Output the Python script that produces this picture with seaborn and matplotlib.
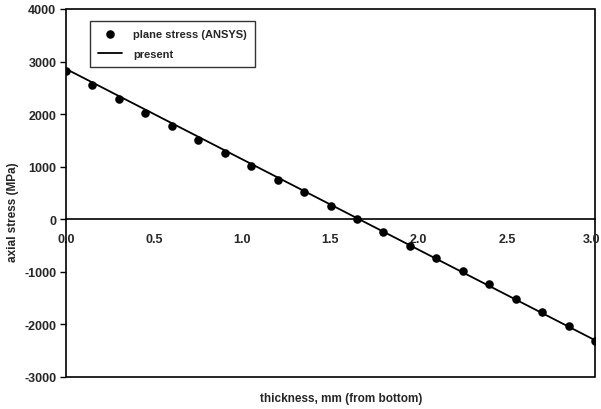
import matplotlib
matplotlib.use("Agg")
import matplotlib.pyplot as plt
import seaborn as sns
import pandas as pd
from matplotlib.patches import Rectangle

thickness = [0.0, 0.15, 0.3, 0.45, 0.6, 0.75, 0.9, 1.05, 1.2, 1.35, 1.5,
             1.65, 1.8, 1.95, 2.1, 2.25, 2.4, 2.55, 2.7, 2.85, 3.0]
ansys_stress = [2820, 2550, 2290, 2020, 1770, 1500, 1260, 1010, 740, 510, 250,
                0, -240, -500, -740, -990, -1240, -1510, -1760, -2030, -2320]
present_x = [0.0, 3.0]
present_stress = [2860, -2300]
xticks = [0.0, 0.5, 1.0, 1.5, 2.0, 2.5, 3.0]
yticks = [-3000, -2000, -1000, 0, 1000, 2000, 3000, 4000]

sns.set_theme(style="white")
plt.rcParams['font.family'] = ['Liberation Sans', 'DejaVu Sans']
plt.rcParams['font.weight'] = 'bold'
plt.rcParams['font.size'] = 9
plt.rcParams['xtick.labelsize'] = 9
plt.rcParams['ytick.labelsize'] = 9

df_pts = pd.DataFrame({"thickness": thickness, "stress": ansys_stress})
df_line = pd.DataFrame({"thickness": present_x, "stress": present_stress})

fig = plt.figure(figsize=(6.01, 4.10), dpi=100)
ax = fig.add_axes([66/601, 1-378/410, (595-66)/601, (378-10)/410])

sns.lineplot(data=df_line, x="thickness", y="stress", ax=ax, color="black",
             linewidth=1.3, label="present", zorder=2)
sns.scatterplot(data=df_pts, x="thickness", y="stress", ax=ax, color="black",
                s=38, edgecolor="black", linewidth=0, label="plane stress (ANSYS)", zorder=3)

ax.set_xlim(0, 3.0)
ax.set_ylim(-3000, 4000)

for s in ['top', 'right', 'left']:
    ax.spines[s].set_visible(False)
ax.spines['bottom'].set_position(('data', 0))
ax.spines['bottom'].set_color('black')
ax.spines['bottom'].set_linewidth(1.2)
ax.add_patch(Rectangle((0, 0), 1, 1, transform=ax.transAxes, fill=False,
                       edgecolor='black', linewidth=1.2, clip_on=False, zorder=1))

ax.tick_params(axis='x', direction='out', length=4, width=1, color='black', pad=6, labelsize=9)
ax.tick_params(axis='y', direction='out', length=4, width=1, color='black', pad=3, left=True, labelsize=9)

ax.set_xticks(xticks)
xlabels = [f"{v:.1f}" for v in xticks]
# last label is drawn separately (slightly shifted) so it stays inside the figure
ax.set_xticklabels(xlabels[:-1] + [""], fontweight='bold')
ax.annotate(xlabels[-1], xy=(xticks[-1], 0), xycoords='data',
            xytext=(-2.5, -10.2), textcoords='offset points', ha='center', va='top',
            fontsize=9, fontweight='bold', annotation_clip=False)
ax.set_yticks(yticks)
ax.set_yticklabels([str(v) for v in yticks], fontweight='bold')

ax.set_xlabel("thickness, mm (from bottom)", fontsize=8.5, fontweight='bold')
ax.xaxis.set_label_coords(0.52, -0.042)
ax.set_ylabel("axial stress (MPa)", fontsize=8.5, fontweight='bold')
ax.yaxis.set_label_coords(-0.088, 0.451)

handles, labels = ax.get_legend_handles_labels()
order = [labels.index("plane stress (ANSYS)"), labels.index("present")]
leg = ax.legend([handles[i] for i in order], [labels[i] for i in order],
                loc='upper left', bbox_to_anchor=(0.045, 0.967), borderaxespad=0,
                frameon=True, fancybox=False, edgecolor='black', fontsize=8,
                handlelength=2.2, handletextpad=1.0, borderpad=0.7, labelspacing=0.9)
leg.get_frame().set_linewidth(1.0)
for t in leg.get_texts():
    t.set_fontweight('bold')

fig.savefig("out.png", dpi=100)
